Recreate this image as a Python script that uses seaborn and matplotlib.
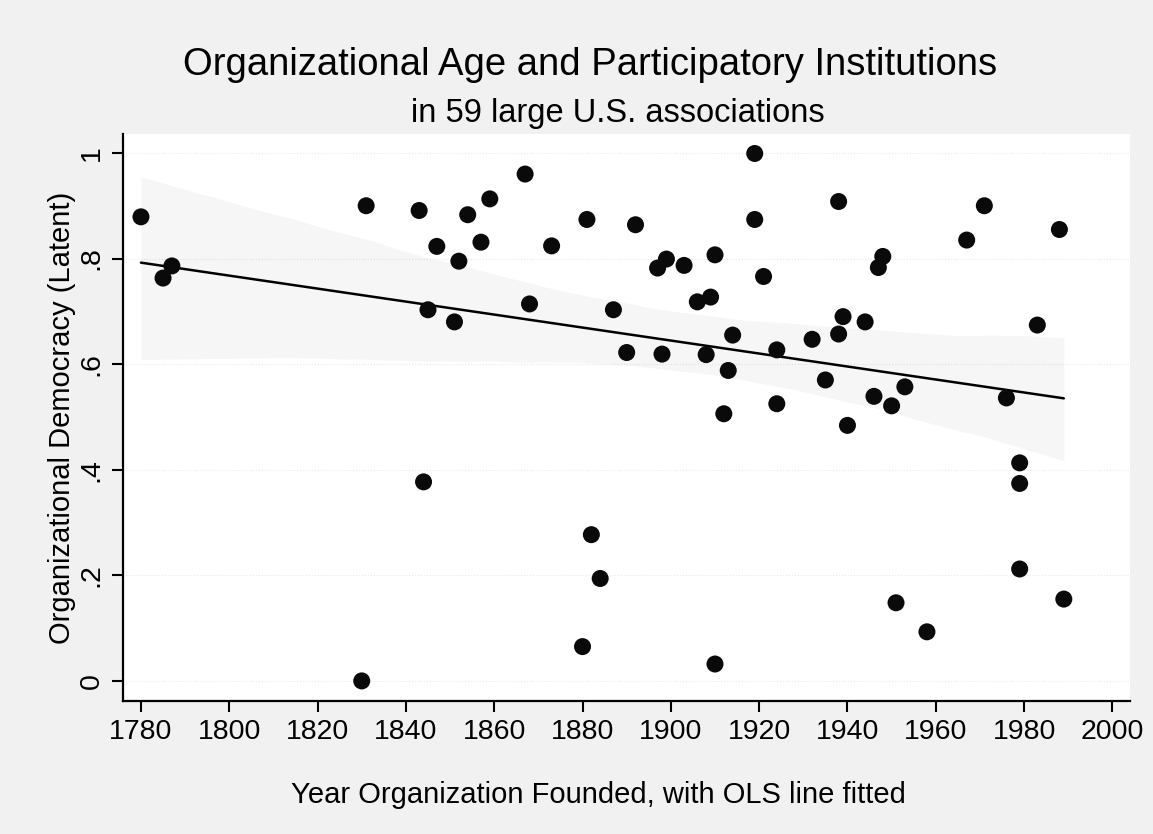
"""
Organizational age vs. participatory institutions (scatter + OLS fit)
"""

import matplotlib
matplotlib.use("Agg")
import matplotlib.pyplot as plt
from matplotlib.collections import PolyCollection
import seaborn as sns
import numpy as np

# -----------------------------
# Data
# -----------------------------
year_founded = [
    1780, 1785, 1787, 1830, 1831, 1843, 1844, 1845, 1847, 1851,
    1852, 1854, 1857, 1859, 1867, 1868, 1873, 1880, 1881, 1882,
    1884, 1887, 1890, 1892, 1897, 1898, 1899, 1903, 1906, 1908,
    1909, 1910, 1910, 1912, 1913, 1914, 1919, 1919, 1921, 1924,
    1924, 1932, 1935, 1938, 1938, 1939, 1940, 1944, 1946, 1947,
    1948, 1950, 1951, 1953, 1958, 1967, 1971, 1976, 1979, 1979,
    1979, 1983, 1988, 1989,
]
democracy = [
    0.879, 0.763, 0.786, 0.000, 0.900, 0.891, 0.377, 0.703, 0.823, 0.680,
    0.795, 0.883, 0.831, 0.913, 0.960, 0.714, 0.824, 0.065, 0.874, 0.277,
    0.194, 0.703, 0.622, 0.864, 0.782, 0.619, 0.799, 0.787, 0.718, 0.618,
    0.727, 0.807, 0.032, 0.506, 0.588, 0.655, 0.999, 0.874, 0.766, 0.627,
    0.525, 0.647, 0.570, 0.908, 0.657, 0.690, 0.484, 0.680, 0.539, 0.783,
    0.804, 0.521, 0.148, 0.557, 0.093, 0.835, 0.900, 0.536, 0.413, 0.374,
    0.212, 0.674, 0.855, 0.155,
]

x_ticks = list(range(1780, 2001, 20))
y_ticks = [0, 0.2, 0.4, 0.6, 0.8, 1.0]
y_tick_labels = ["0", ".2", ".4", ".6", ".8", "1"]

# -----------------------------
# Style
# -----------------------------
sns.set_style("white")
plt.rcParams["font.family"] = ["Liberation Sans", "DejaVu Sans"]
plt.rcParams["text.color"] = "black"
plt.rcParams["axes.labelcolor"] = "black"
plt.rcParams["xtick.color"] = "black"
plt.rcParams["ytick.color"] = "black"

fig = plt.figure(figsize=(11.53, 8.34), dpi=100)
fig.patch.set_facecolor("#f1f1f1")
ax = fig.add_axes([0.1064, 0.1595, 0.8737, 0.6799])
ax.set_facecolor("white")

# -----------------------------
# Scatter + OLS line
# -----------------------------
sns.regplot(x=np.array(year_founded), y=np.array(democracy), ax=ax,
            ci=95, seed=3, truncate=True,
            scatter_kws=dict(s=150, color="#0a0a0a", edgecolor="none",
                             alpha=1, zorder=3),
            line_kws=dict(color="black", lw=1.8, zorder=2))

# very faint confidence band
for coll in ax.collections:
    if isinstance(coll, PolyCollection):
        coll.set_alpha(0.035)

# -----------------------------
# Axes
# -----------------------------
ax.set_xlim(1775.86, 2004)
ax.set_ylim(-0.038, 1.036)
ax.set_xticks(x_ticks)
ax.set_yticks(y_ticks)
ax.set_yticklabels(y_tick_labels, rotation=90, va="center")
ax.tick_params(axis="both", which="major", direction="out", length=8,
               width=1.5, color="black", labelcolor="black",
               labelsize=20.5, pad=5, bottom=True, left=True)

for side in ["top", "right"]:
    ax.spines[side].set_visible(False)
for side in ["left", "bottom"]:
    ax.spines[side].set_color("black")
    ax.spines[side].set_linewidth(1.6)

ax.grid(axis="y", color="#e8e8e8", linestyle=":", linewidth=0.8)
ax.set_axisbelow(True)

ax.set_xlabel("Year Organization Founded, with OLS line fitted", fontsize=21)
ax.xaxis.set_label_coords(0.472, -0.166)
ax.xaxis.label.set_va("center")
ax.set_ylabel("Organizational Democracy (Latent)", fontsize=21)
ax.yaxis.set_label_coords(-0.0603, 0.50)
ax.yaxis.label.set_va("center")

fig.text(0.5117, 0.922, "Organizational Age and Participatory Institutions",
         ha="center", va="center", fontsize=27.5)
fig.text(0.536, 0.8645, "in 59 large U.S. associations",
         ha="center", va="center", fontsize=23.5)

plt.savefig("out.png", dpi=100, facecolor=fig.get_facecolor())
